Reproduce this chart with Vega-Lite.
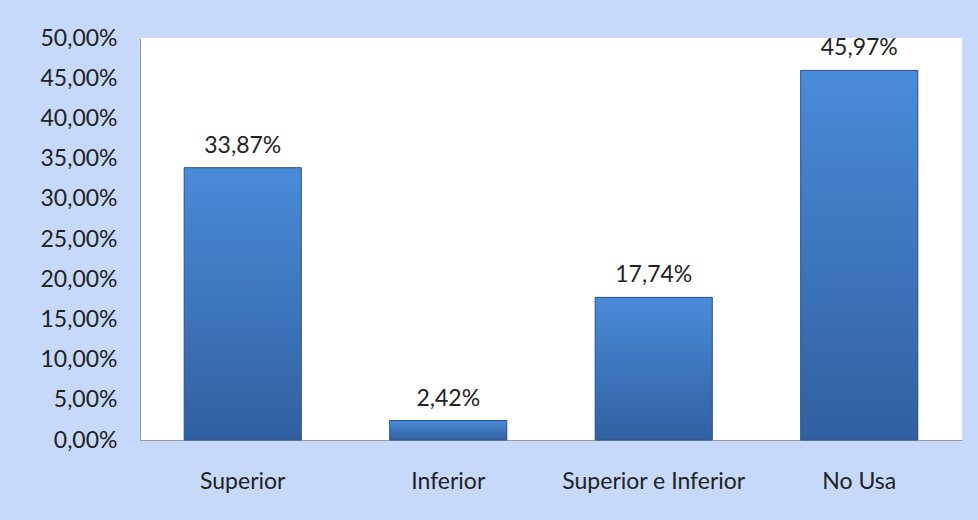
{
  "$schema": "https://vega.github.io/schema/vega-lite/v6.json",
  "width": 822,
  "height": 402,
  "autosize": "none",
  "padding": {"left": 140, "top": 38, "right": 16, "bottom": 80},
  "background": "#c6d9fb",
  "config": {
    "locale": {"number": {"decimal": ",", "thousands": ".", "grouping": [3], "currency": ["", " €"]}},
    "view": {"fill": "white", "stroke": null},
    "font": "Lato"
  },
  "data": {
    "values": [
      {"categoria": "Superior", "valor": 0.3387},
      {"categoria": "Inferior", "valor": 0.0242},
      {"categoria": "Superior e Inferior", "valor": 0.1774},
      {"categoria": "No Usa", "valor": 0.4597}
    ]
  },
  "encoding": {
    "x": {
      "field": "categoria",
      "type": "nominal",
      "sort": null,
      "scale": {"paddingInner": 0.43, "paddingOuter": 0.215},
      "axis": {
        "title": null,
        "labelAngle": 0,
        "labelFontSize": 23,
        "labelLimit": 400,
        "labelColor": "#222222",
        "labelPadding": 30,
        "ticks": false,
        "domainColor": "#999999",
        "domainWidth": 1
      }
    },
    "y": {
      "field": "valor",
      "type": "quantitative",
      "scale": {"domain": [0, 0.5], "nice": false},
      "axis": {
        "title": null,
        "values": [0, 0.05, 0.1, 0.15, 0.2, 0.25, 0.3, 0.35, 0.4, 0.45, 0.5],
        "format": ".2%",
        "grid": false,
        "ticks": false,
        "labelFontSize": 23,
        "labelColor": "#222222",
        "labelPadding": 23,
        "domainColor": "#999999",
        "domainWidth": 1
      }
    }
  },
  "layer": [
    {
      "mark": {
        "type": "bar",
        "stroke": "#2a5186",
        "strokeWidth": 1,
        "color": {
          "gradient": "linear",
          "x1": 0, "y1": 0, "x2": 0, "y2": 1,
          "stops": [
            {"offset": 0, "color": "#4a8bd9"},
            {"offset": 1, "color": "#31609f"}
          ]
        }
      }
    },
    {
      "mark": {"type": "text", "baseline": "bottom", "dy": -10, "fontSize": 23, "color": "#222222"},
      "encoding": {
        "text": {"field": "valor", "type": "quantitative", "format": ".2%"}
      }
    }
  ]
}
